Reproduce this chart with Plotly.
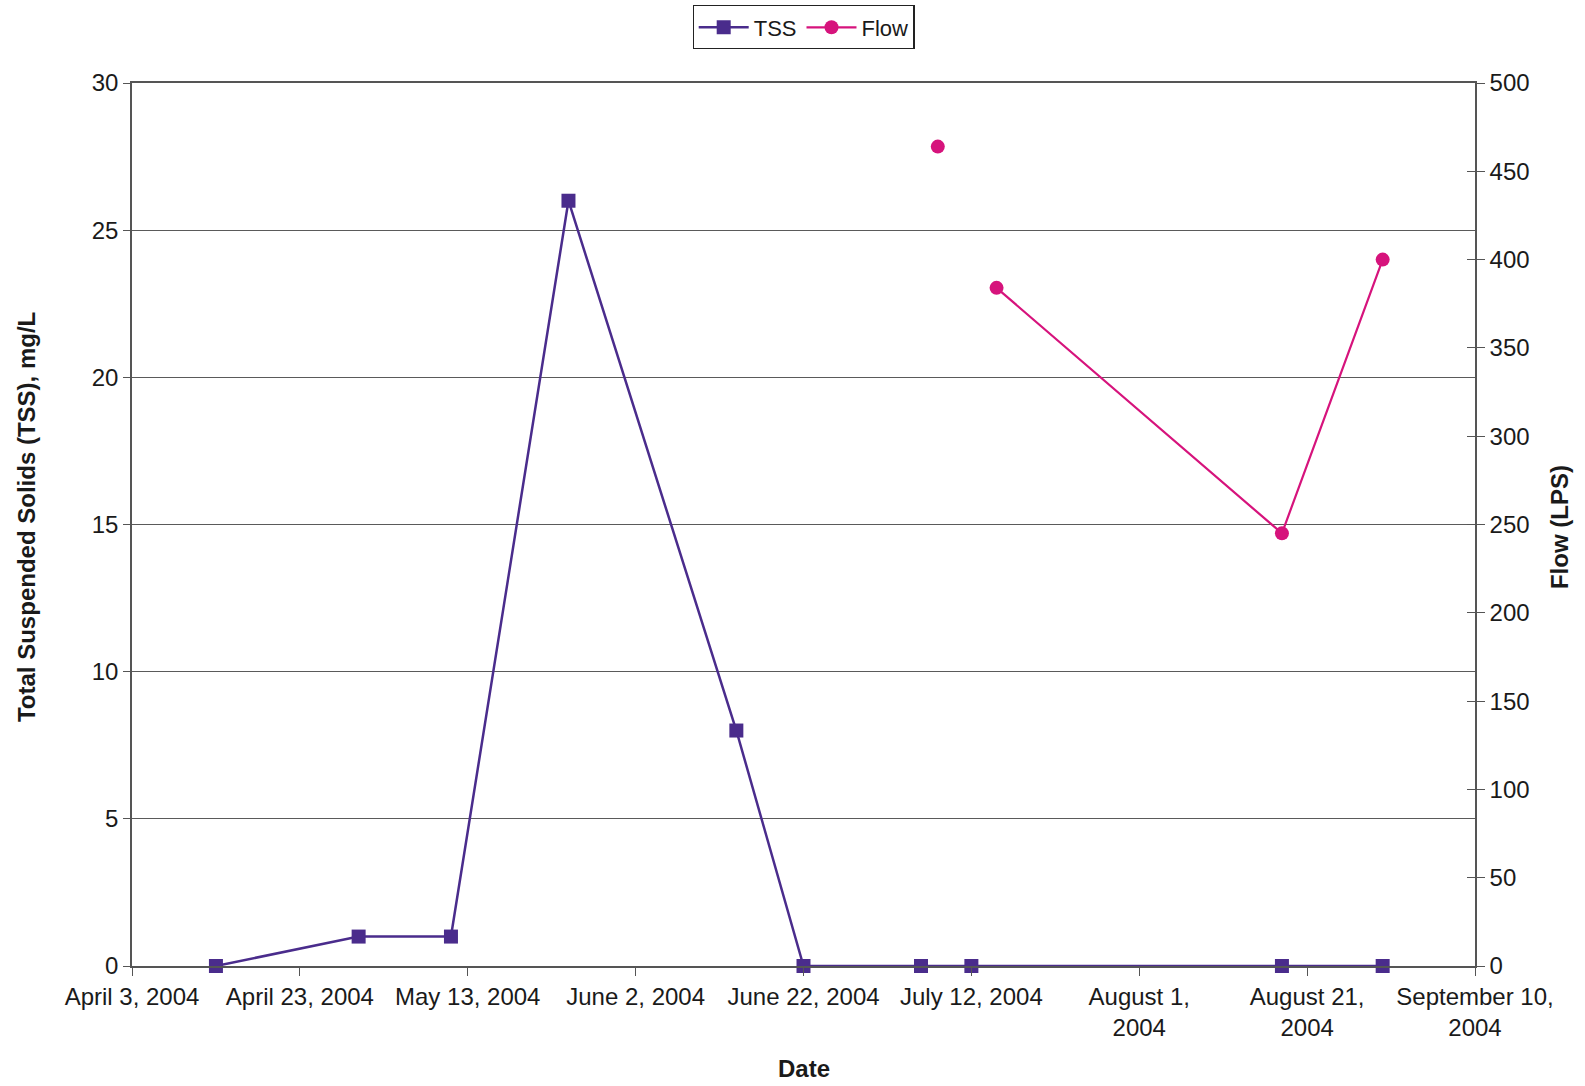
import plotly.graph_objects as go

# Sampling dates and measured values
tss_dates = ["2004-04-13", "2004-04-30", "2004-05-11", "2004-05-25", "2004-06-14",
             "2004-06-22", "2004-07-06", "2004-07-12", "2004-08-18", "2004-08-30"]
tss_values = [0, 1, 1, 26, 8, 0, 0, 0, 0, 0]

flow_dates = ["2004-07-08", "2004-07-12", "2004-07-15", "2004-08-18", "2004-08-30"]
flow_values = [464, None, 384, 245, 400]

# Date axis ticks (every 20 days)
x_tick_vals = ["2004-04-03", "2004-04-23", "2004-05-13", "2004-06-02", "2004-06-22",
               "2004-07-12", "2004-08-01", "2004-08-21", "2004-09-10"]
x_tick_text = ["April 3, 2004", "April 23, 2004", "May 13, 2004", "June 2, 2004",
               "June 22, 2004", "July 12, 2004", "August 1,<br>2004",
               "August 21,<br>2004", "September 10,<br>2004"]

TSS_COLOR = "#4a2c8c"
FLOW_COLOR = "#d6137c"
FONT = "Liberation Sans, Arial, sans-serif"
AXIS_GRAY = "#555555"
TEXT = "#1a1a1a"

fig = go.Figure()

fig.add_trace(go.Scatter(
    x=tss_dates, y=tss_values, name="TSS", mode="lines+markers",
    line=dict(color=TSS_COLOR, width=2.5),
    marker=dict(symbol="square", size=14, color=TSS_COLOR),
    cliponaxis=False, yaxis="y",
))

fig.add_trace(go.Scatter(
    x=flow_dates, y=flow_values, name="Flow", mode="lines+markers",
    line=dict(color=FLOW_COLOR, width=2.2),
    marker=dict(symbol="circle", size=14, color=FLOW_COLOR),
    connectgaps=False, cliponaxis=False, yaxis="y2",
))

# invisible trace to activate inner tick marks on the right axis
fig.add_trace(go.Scatter(x=[None], y=[None], yaxis="y3", showlegend=False,
                         hoverinfo="skip"))

fig.update_layout(
    width=1585, height=1086,
    margin=dict(l=132, r=110, t=83, b=120, autoexpand=False),
    paper_bgcolor="white", plot_bgcolor="white",
    font=dict(family=FONT, size=24, color=TEXT),
    showlegend=True,
    legend=dict(
        orientation="h", x=0.5, xanchor="center", y=1.088, yanchor="top",
        bordercolor="#222222", borderwidth=1.2, bgcolor="white",
        font=dict(family=FONT, size=22, color=TEXT),
        itemwidth=50,
    ),
    xaxis=dict(
        type="date", range=["2004-04-03", "2004-09-10"],
        tickvals=x_tick_vals, ticktext=x_tick_text,
        ticks="outside", ticklen=8, tickcolor=AXIS_GRAY,
        showline=True, linecolor=AXIS_GRAY, linewidth=1.5, mirror=True,
        showgrid=False, zeroline=False,
        tickfont=dict(family=FONT, size=24, color=TEXT),
    ),
    yaxis=dict(
        range=[0, 30], dtick=5, tick0=0,
        ticks="outside", ticklen=7, tickcolor=AXIS_GRAY,
        showline=True, linecolor=AXIS_GRAY, linewidth=1.5,
        showgrid=True, gridcolor="#5a5a5a", gridwidth=1,
        zeroline=False,
        tickfont=dict(family=FONT, size=24, color=TEXT),
    ),
    yaxis2=dict(
        range=[0, 500], dtick=50, tick0=0, overlaying="y", side="right",
        ticks="outside", ticklen=8, tickcolor=AXIS_GRAY,
        showline=True, linecolor=AXIS_GRAY, linewidth=1.5,
        showgrid=False, zeroline=False,
        tickfont=dict(family=FONT, size=24, color=TEXT),
    ),
    yaxis3=dict(
        range=[0, 500], dtick=50, tick0=0, overlaying="y", side="right",
        ticks="inside", ticklen=8, tickcolor=AXIS_GRAY,
        showticklabels=False, showline=False, showgrid=False, zeroline=False,
    ),
    annotations=[
        dict(text="<b>Total Suspended Solids (TSS), mg/L</b>", textangle=-90,
             xref="paper", yref="paper", x=-0.0785, y=0.508,
             xanchor="center", yanchor="middle", showarrow=False,
             font=dict(family=FONT, size=24, color=TEXT)),
        dict(text="<b>Flow (LPS)</b>", textangle=-90,
             xref="paper", yref="paper", x=1.0625, y=0.497,
             xanchor="center", yanchor="middle", showarrow=False,
             font=dict(family=FONT, size=24, color=TEXT)),
        dict(text="<b>Date</b>",
             xref="paper", yref="paper", x=0.5, y=-0.116,
             xanchor="center", yanchor="middle", showarrow=False,
             font=dict(family=FONT, size=24, color=TEXT)),
    ],
)

fig.write_html("out.html")
